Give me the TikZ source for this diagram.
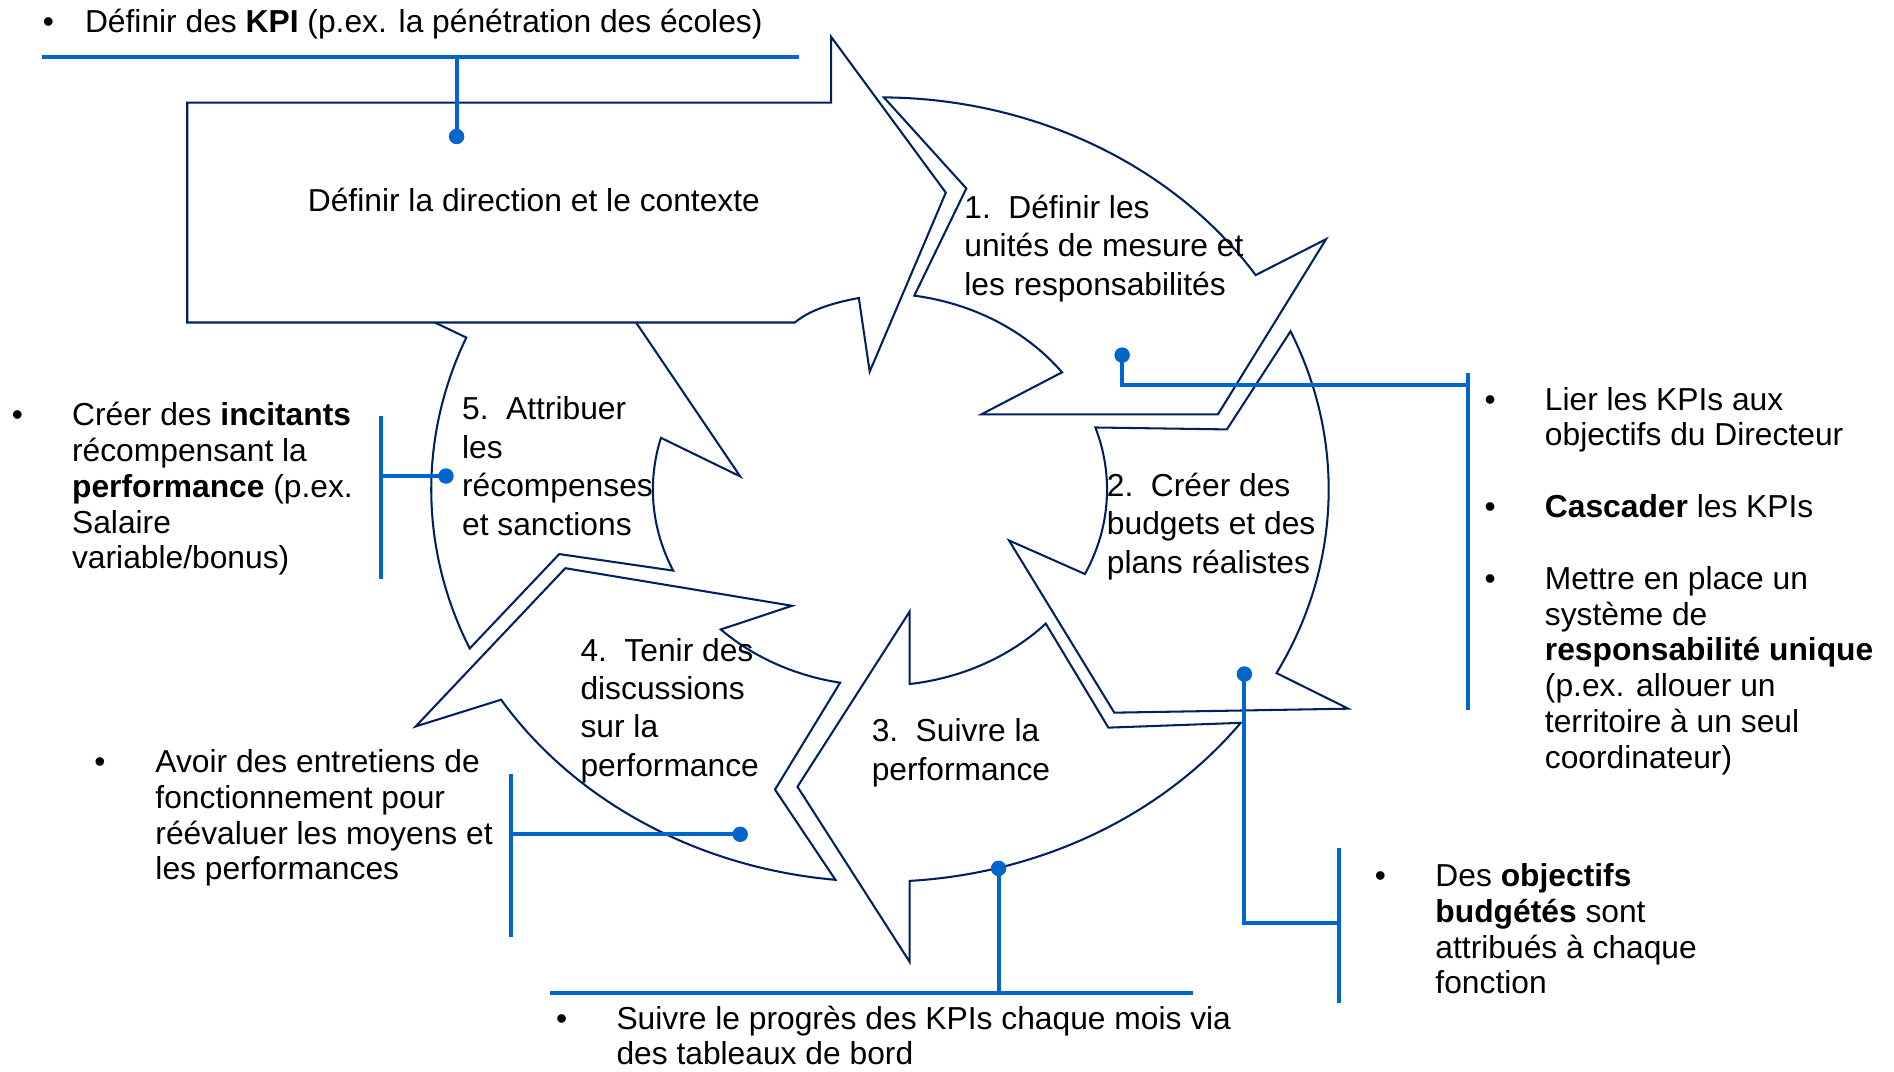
\documentclass[tikz,border=0pt]{standalone}
\usepackage{fontspec}
\setmainfont{Liberation Sans}
\definecolor{navyline}{RGB}{0,32,96}
\definecolor{conblue}{RGB}{0,102,204}
\newcommand\mlines[1]{\vtop{\halign{##\hfil\cr #1\crcr}}}
\newcommand\cOx[1]{728.5+371.5*cos(#1)}
\newcommand\cOy[1]{405.3+324.7*sin(#1)}
\newcommand\cIx[1]{728.5+188*cos(#1)}
\newcommand\cIy[1]{405.3+162.4*sin(#1)}
\newcommand\numgap{\hspace{0.55em}}
\begin{document}
\begin{tikzpicture}[x=0.5pt,y=-0.5pt,
  shp/.style={draw=navyline, line width=0.85pt, fill=white, line join=miter},
  con/.style={draw=conblue, line width=1.7pt, line join=miter},
  dot/.style={circle, fill=conblue, inner sep=0pt, minimum size=6.4pt},
  txt/.style={anchor=base west, inner sep=0pt, font=\fontsize{13.15}{14.8}\selectfont},
  numtxt/.style={anchor=base west, inner sep=0pt, font=\fontsize{13.15}{15.9}\selectfont},
  bul/.style={anchor=base, inner sep=0pt, font=\fontsize{13.15}{14.8}\selectfont},
  outarc/.style={x radius=371.5, y radius=324.7},
  inarc/.style={x radius=188, y radius=162.4}]
\fill[white] (0,0) rectangle (1568,887);
\useasboundingbox (0,0) rectangle (1568,887);

% arc end points
\coordinate (a1o) at ({\cOx{-89.5}},{\cOy{-89.5}});
\coordinate (a1i) at ({\cIx{-36.7}},{\cIy{-36.7}});
\coordinate (a2o) at ({\cOx{-23.8}},{\cOy{-23.8}});
\coordinate (a2i) at ({\cIx{25.5}},{\cIy{25.5}});
\coordinate (a3o) at ({\cOx{36.5}},{\cOy{36.5}});
\coordinate (a3i) at ({\cIx{82.5}},{\cIy{82.5}});
\coordinate (a4o) at ({\cOx{95.7}},{\cOy{95.7}});
\coordinate (a4i) at ({\cIx{134.5}},{\cIy{134.5}});
\coordinate (a5o) at ({\cOx{156.1}},{\cOy{156.1}});
\coordinate (a5i) at ({\cIx{195.3}},{\cIy{195.3}});

% arrow 5 (under the block arrow)
\draw[shp] (a5o) arc[outarc, start angle=156.1, end angle=202.8]
  -- (361.5,267.7) -- (325.6,250) -- (515.1,250) -- (612.8,394.4)
  -- (a5i) arc[inarc, start angle=195.3, end angle=155.6]
  -- (463,458.7) -- cycle;

% block arrow
\draw[shp] (155,85) -- (688,85) -- (688,30.4) -- (783,159.5) -- (720,307.7)
  -- (711,246.7) .. controls (688,251) and (670,257) .. (658,267)
  -- (155,267) -- cycle;

% arrow 1
\draw[shp] (a1o) arc[outarc, start angle=-89.5, end angle=-33.15]
  -- (1097.8,198) -- (1008.3,343) -- (812.5,343)
  -- (a1i) arc[inarc, start angle=-36.7, end angle=-81.3]
  -- (800,156) -- cycle;

% arrow 2
\draw[shp] (a2o) arc[outarc, start angle=-23.8, end angle=27.9]
  -- (1116.2,586.7) -- (922.5,590) -- (835.3,447.4)
  -- (a2i) arc[inarc, start angle=25.5, end angle=-18.45]
  -- (1015.7,355.5) -- cycle;

% arrow 3
\draw[shp] (a3o) arc[outarc, start angle=36.5, end angle=86.2]
  -- (753,796.2) -- (660.2,651.3) -- (753,506.4)
  -- (a3i) arc[inarc, start angle=82.5, end angle=43.1]
  -- (917.6,602.4) -- cycle;

% arrow 4
\draw[shp] (a4o) arc[outarc, start angle=95.7, end angle=147.6]
  -- (344.1,601.4) -- (468,470.4) -- (655.7,501.5)
  -- (a4i) arc[inarc, start angle=134.5, end angle=100.1]
  -- (641.6,653.7) -- cycle;

% connectors
\node[dot] (d0) at (378,113) {};
\node[dot] (d1) at (929,294) {};
\node[dot] (d2) at (1030.2,558) {};
\node[dot] (d3) at (826.7,718.9) {};
\node[dot] (d4) at (612.8,690.7) {};
\node[dot] (d5) at (369.2,394.1) {};

\coordinate (h0l) at (35,47.5);
\coordinate (h0r) at (661.5,47.5);
\coordinate (h0m) at (378,47.5);
\draw[con] (h0l) -- (h0r);
\draw[con] (h0m) -- (d0.center);

\coordinate (b1t) at (1215,309);
\coordinate (b1b) at (1215,588);
\coordinate (b1m) at (1215,319);
\draw[con] (b1t) -- (b1b);
\draw[con] (d1.center) |- (b1m);

\coordinate (b5t) at (315.5,344.4);
\coordinate (b5b) at (315.5,479.6);
\coordinate (b5m) at (315.5,394.1);
\draw[con] (b5t) -- (b5b);
\draw[con] (b5m) -- (d5.center);

\coordinate (b4t) at (422.8,640.5);
\coordinate (b4b) at (422.8,775.8);
\coordinate (b4m) at (422.8,690.7);
\draw[con] (b4t) -- (b4b);
\draw[con] (b4m) -- (d4.center);

\coordinate (h3l) at (455,822.4);
\coordinate (h3r) at (988,822.4);
\coordinate (h3m) at (826.7,822.4);
\draw[con] (h3l) -- (h3r);
\draw[con] (h3m) -- (d3.center);

\coordinate (b2t) at (1108.8,702.3);
\coordinate (b2b) at (1108.8,830.7);
\coordinate (b2m) at (1108.8,763.9);
\draw[con] (b2t) -- (b2b);
\draw[con] (d2.center) |- (b2m);

% texts
\node[bul] (u0) at (40,26.5) {•};
\node[txt] (t0) at (70,26.5) {Définir des \textbf{KPI} (p.ex. la pénétration des écoles)};
\node[txt, anchor=base] (tb) at (442,175.5) {Définir la direction et le contexte};

\node[numtxt] (n1) at (798,180.8) {\mlines{1.\numgap Définir les\cr unités de mesure et\cr les responsabilités}};
\node[numtxt] (n2) at (916,411) {\mlines{2.\numgap Créer des\cr budgets et des\cr plans réalistes}};
\node[numtxt] (n3) at (721.3,614) {\mlines{3.\numgap Suivre la\cr performance}};
\node[numtxt] (n4) at (480.2,547.3) {\mlines{4.\numgap Tenir des\cr discussions\cr sur la\cr performance}};
\node[numtxt] (n5) at (382.2,347.7) {\mlines{5.\numgap Attribuer\cr les\cr récompenses\cr et sanctions}};

\node[bul] (u1) at (14.4,352.6) {•};
\node[txt] (l1) at (59.3,352.6) {\mlines{Créer des \textbf{incitants}\cr récompensant la\cr \textbf{performance} (p.ex.\cr Salaire\cr variable/bonus)}};

\node[bul] (u2) at (82.8,639.6) {•};
\node[txt] (l2) at (128.3,639.6) {\mlines{Avoir des entretiens de\cr fonctionnement pour\cr réévaluer les moyens et\cr les performances}};

\node[bul] (u3) at (465,852) {•};
\node[txt, font=\fontsize{13.15}{14.6}\selectfont] (l3) at (510,852) {\mlines{Suivre le progrès des KPIs chaque mois via\cr des tableaux de bord}};

\node[bul] (u4) at (1233.6,339.5) {•};
\node[txt] (r1) at (1278.6,339.5) {\mlines{Lier les KPIs aux\cr objectifs du Directeur}};
\node[bul] (u5) at (1233.6,428.5) {•};
\node[txt] (r2) at (1278.6,428.5) {\textbf{Cascader} les KPIs};
\node[bul] (u6) at (1233.6,488) {•};
\node[txt] (r3) at (1278.6,488) {\mlines{Mettre en place un\cr système de\cr \textbf{responsabilité unique}\cr (p.ex. allouer un\cr territoire à un seul\cr coordinateur)}};

\node[bul] (u7) at (1142.8,734) {•};
\node[txt] (r4) at (1188,734) {\mlines{Des \textbf{objectifs}\cr \textbf{budgétés} sont\cr attribués à chaque\cr fonction}};
\end{tikzpicture}
\end{document}
